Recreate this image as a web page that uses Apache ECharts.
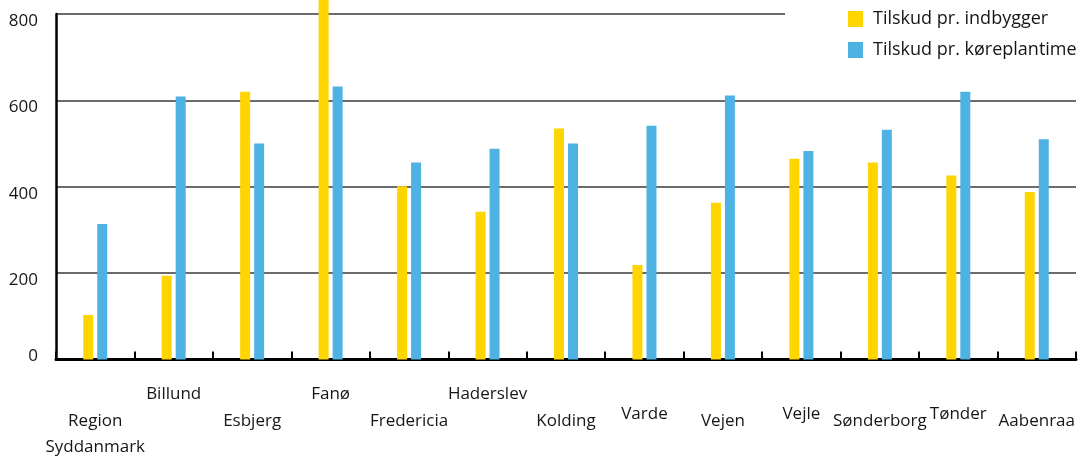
<!DOCTYPE html>
<html>
<head>
<meta charset="utf-8">
<script src="https://cdn.jsdelivr.net/npm/echarts@6/dist/echarts.min.js"></script>
<style>
  html, body { margin: 0; padding: 0; background: #ffffff; }
  #chart { width: 1087px; height: 458px; }
</style>
</head>
<body>
<div id="chart"></div>
<script>
// Municipalities in Region Syddanmark (first entry is the region as a whole)
const municipalities = ['Region\nSyddanmark', 'Billund', 'Esbjerg', 'Fanø', 'Fredericia', 'Haderslev',
  'Kolding', 'Varde', 'Vejen', 'Vejle', 'Sønderborg', 'Tønder', 'Aabenraa'];
// Vertical placement row of each category label (staggered)
const labelRows = ['lo', 'hi', 'lo', 'hi', 'lo', 'hi', 'lo', 'mid', 'lo', 'mid', 'lo', 'mid', 'lo'];

// Subsidy per resident (kr.)
const perResident = [103, 194, 620, 870, 401, 342, 535, 219, 363, 465, 456, 426, 388];
// Subsidy per scheduled service hour (kr.)
const perServiceHour = [314, 609, 500, 632, 456, 488, 500, 541, 611, 483, 532, 620, 510];

const seriesNames = ['Tilskud pr. indbygger', 'Tilskud pr. køreplantime'];
const yMin = 0, yMax = 800, yStep = 200;

const FONT = '"Open Sans", "Noto Sans", sans-serif';
const TEXT = '#161616';
const YELLOW = '#ffd500';
const BLUE = '#4eb3e2';

const chart = echarts.init(document.getElementById('chart'), null, { renderer: 'canvas' });

chart.setOption({
  animation: false,
  backgroundColor: '#ffffff',
  grid: { left: 56, right: 11, top: 14, bottom: 98.5, containLabel: false },
  legend: {
    orient: 'vertical',
    left: 785,
    top: 0,
    padding: [10, 8, 12, 63],
    backgroundColor: '#ffffff',
    icon: 'rect',
    itemWidth: 15,
    itemHeight: 16,
    itemGap: 13,
    z: 10,
    textStyle: { fontFamily: FONT, fontSize: 18, color: TEXT, lineHeight: 16, padding: [0, 0, 0, 5] },
    data: seriesNames
  },
  xAxis: {
    type: 'category',
    data: municipalities,
    boundaryGap: true,
    axisLine: { show: true, lineStyle: { color: '#000', width: 3 } },
    axisTick: { show: true, inside: true, length: 8, lineStyle: { color: '#000', width: 2 } },
    axisLabel: {
      interval: 0,
      hideOverlap: false,
      margin: 8,
      formatter: (val, idx) => {
        const lines = val.split('\n').map(l => '{t|' + l + '}').join('\n');
        return '{' + labelRows[idx] + '| }\n' + lines;
      },
      rich: {
        t: { fontFamily: FONT, fontSize: 17, lineHeight: 26, color: TEXT },
        hi: { fontSize: 1, lineHeight: 14 },
        mid: { fontSize: 1, lineHeight: 34 },
        lo: { fontSize: 1, lineHeight: 41 }
      }
    },
    splitLine: { show: false }
  },
  yAxis: {
    type: 'value',
    min: yMin,
    max: yMax,
    interval: yStep,
    axisLine: { show: true, lineStyle: { color: '#000', width: 2.5 } },
    axisTick: { show: false },
    splitLine: { show: true, lineStyle: { color: '#3a3a3a', width: 1.5 } },
    axisLabel: {
      margin: 18,
      formatter: v => v === 0 ? '{n|0}\n{s0| }' : '{s| }\n{n|' + v + '}',
      rich: {
        n: { fontFamily: FONT, fontSize: 17, lineHeight: 20, color: TEXT },
        s: { fontSize: 1, lineHeight: 14 },
        s0: { fontSize: 1, lineHeight: 6 }
      }
    }
  },
  series: [
    {
      name: seriesNames[0],
      type: 'bar',
      data: perResident,
      barWidth: 10,
      barGap: '40%',
      clip: false,
      itemStyle: { color: YELLOW }
    },
    {
      name: seriesNames[1],
      type: 'bar',
      data: perServiceHour,
      barWidth: 10,
      clip: false,
      itemStyle: { color: BLUE }
    }
  ]
});
</script>
</body>
</html>
